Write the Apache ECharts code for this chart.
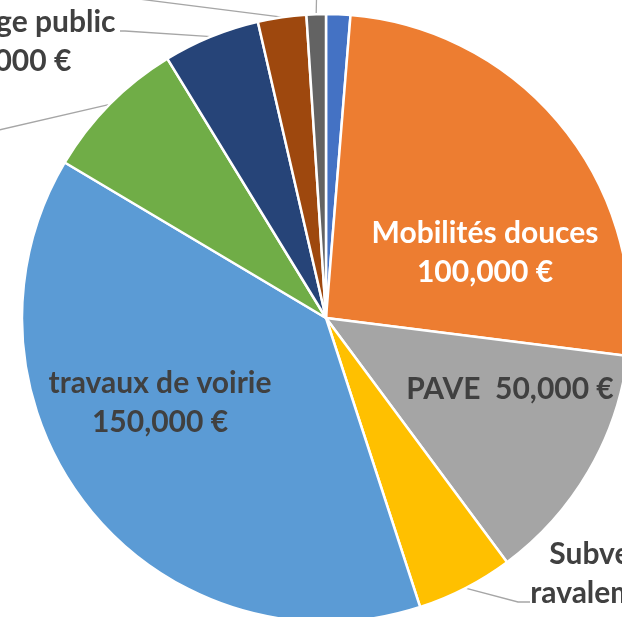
<!DOCTYPE html>
<html>
<head>
<meta charset="utf-8">
<script src="https://cdn.jsdelivr.net/npm/echarts@6/dist/echarts.min.js"></script>
<style>
  html, body { margin: 0; padding: 0; background: #fff; }
  #budget { width: 622px; height: 617px; }
</style>
</head>
<body>
<div id="budget"></div>
<script>
// postes du budget, dans l'ordre du graphique (sens horaire depuis midi)
const postes = ['Signalisation', 'Mobilités douces', 'PAVE', 'Subvention\nravalement de\nfaçades', 'travaux de voirie', 'Espaces verts', 'Éclairage public', 'Mobilier urbain', 'Études']
const montants = [5000, 100000, 50000, 20000, 150000, 30000, 20000, 10000, 4000]
const couleurs = ['#4472C4', '#ED7D31', '#A5A5A5', '#FFC000', '#5B9BD5', '#70AD47', '#264478', '#9E480E', '#636363']

// placement des étiquettes (la vue est recadrée, certaines sortent du cadre)
const placement = [
  { x: 380, y: -90, line: null },
  { x: 485, y: 253, color: '#fff' },
  { x: 510, y: 389 },
  { x: 625, y: 535, va: 'top', line: [[518, 602], [530, 602]] },
  { x: 160, y: 403 },
  { x: -130, y: 145, line: [[-40, 139], [-50, 139]] },
  { x: 12, y: 42, line: [[125, 31], [120, 31]] },
  { x: -60, y: -40, line: [[60, -11], [50, -11]] },
  { x: 317, y: -70, line: [[317, -25], [317, -30]] }
]

const euros = v => v.toLocaleString('en-US') + ' €'

const chart = echarts.init(document.getElementById('budget'))
chart.setOption({
  animation: false,
  series: [{
    type: 'pie',
    center: [326, 318],
    radius: 304,
    startAngle: 90,
    clockwise: true,
    itemStyle: { borderColor: '#fff', borderWidth: 2.5 },
    label: {
      show: true,
      position: 'outside',
      overflow: 'none',
      fontFamily: 'Lato',
      fontWeight: 'bold',
      fontSize: 30,
      lineHeight: 39,
      color: '#404040',
      align: 'center',
      formatter: p => p.name + (p.name === 'PAVE' ? '  ' : '\n') + euros(p.value)
    },
    labelLine: { show: true, lineStyle: { color: '#A6A6A6', width: 1.3 }, smooth: false },
    labelLayout: params => {
      const p = placement[params.dataIndex]
      const out = { x: p.x, y: p.y, align: 'center', verticalAlign: p.va || 'middle', hideOverlap: false }
      if (p.line && params.labelLinePoints) {
        out.labelLinePoints = [params.labelLinePoints[0], p.line[0], p.line[1]]
      }
      return out
    },
    data: postes.map((name, i) => ({
      name: name,
      value: montants[i],
      itemStyle: { color: couleurs[i] },
      label: placement[i].color ? { color: placement[i].color } : {},
      labelLine: { show: !!placement[i].line }
    }))
  }]
})
</script>
</body>
</html>
